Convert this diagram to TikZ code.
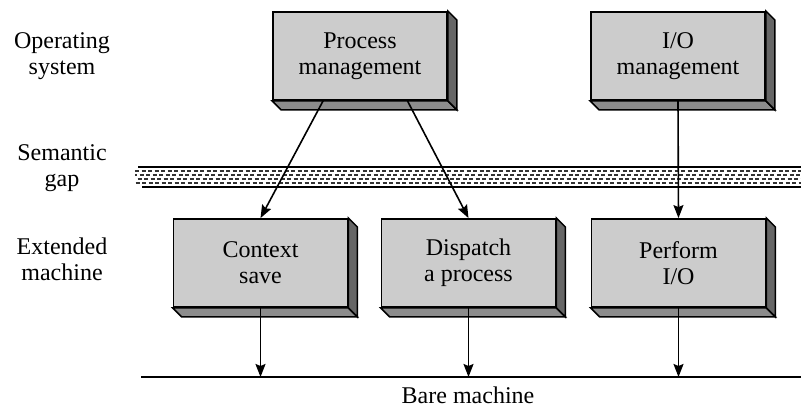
\documentclass[tikz,border=0pt]{standalone}
\usepackage{fontspec}
\setmainfont{Liberation Serif}
\usetikzlibrary{arrows.meta,calc}
\tikzset{
	opbox/.style={draw=black, line width=1.8pt, fill=black!20, minimum width=174pt, minimum height=88pt, inner sep=0pt, align=center, font=\rmfamily\fontsize{24}{26}\selectfont},
	lvl/.style={align=center, font=\rmfamily\fontsize{24}{26}\selectfont},
	arr/.style={line width=1.6pt, -{Stealth[length=13pt,width=10pt,inset=2pt]}}
}
\def\boxdepth(#1){\draw[line width=1.5pt, fill=black!45] (#1.south west) -- ++(9,-9) -- ($(#1.south east)+(9,-9)$) -- (#1.south east) -- cycle;
	\draw[line width=1.5pt, fill=black!60] (#1.south east) -- ++(9,-9) -- ($(#1.north east)+(9,-9)$) -- (#1.north east) -- cycle;}

\begin{document}
\begin{tikzpicture}[x=1pt, y=1pt]
	\useasboundingbox (0,0) rectangle (801,411);
	%%%%% LEVELS %%%%%
	\node[lvl] (os) at (62,355) {Operating\\system};
	\node[lvl] (sg) at (62,243) {Semantic\\gap};
	\node[lvl] (em) at (62,152) {Extended\\machine};
	
	%%%%% SEMANTIC GAP %%%%%
	\foreach \r in {0,...,3}
		\draw[line width=2pt, black!80, dash pattern=on 4pt off 2.5pt, dash phase=\r*2pt] (135, 240-\r*4) -- (801, 240-\r*4);
	\draw[line width=2.2pt] (138,244) -- (801,244);
	\draw[line width=2.2pt] (142,224) -- (801,224);
	
	%%%%% BOXES %%%%%
	\node[opbox] (pm) at (360,355) {Process\\management};
	\boxdepth(pm)
	\node[opbox] (iom) at (678,355) {I/O\\management};
	\boxdepth(iom)
	\node[opbox] (cs) at (260.5,148) {Context\\save};
	\boxdepth(cs)
	\node[opbox] (dp) at (468.5,148) {Dispatch\\a process};
	\boxdepth(dp)
	\node[opbox] (pio) at (678.5,148) {Perform\\I/O};
	\boxdepth(pio)
	
	%%%%% BARE MACHINE %%%%%
	\coordinate (bl) at (141,34);
	\coordinate (br) at (801,34);
	\draw[line width=2.2pt] (bl) -- (br);
	\node[lvl] (bm) at (468,16) {Bare machine};
	
	%%%%% ARROWS %%%%%
	\draw[arr] ($(pm.south west)!0.29!(pm.south east)$) -- (cs.north);
	\draw[arr] ($(pm.south west)!0.77!(pm.south east)$) -- (dp.north);
	\draw[arr] (iom.south) -- (pio.north);
	\draw[arr] (cs.south) -- (cs.south |- bl);
	\draw[arr] (dp.south) -- (dp.south |- bl);
	\draw[arr] (pio.south) -- (pio.south |- bl);
\end{tikzpicture}
\end{document}
